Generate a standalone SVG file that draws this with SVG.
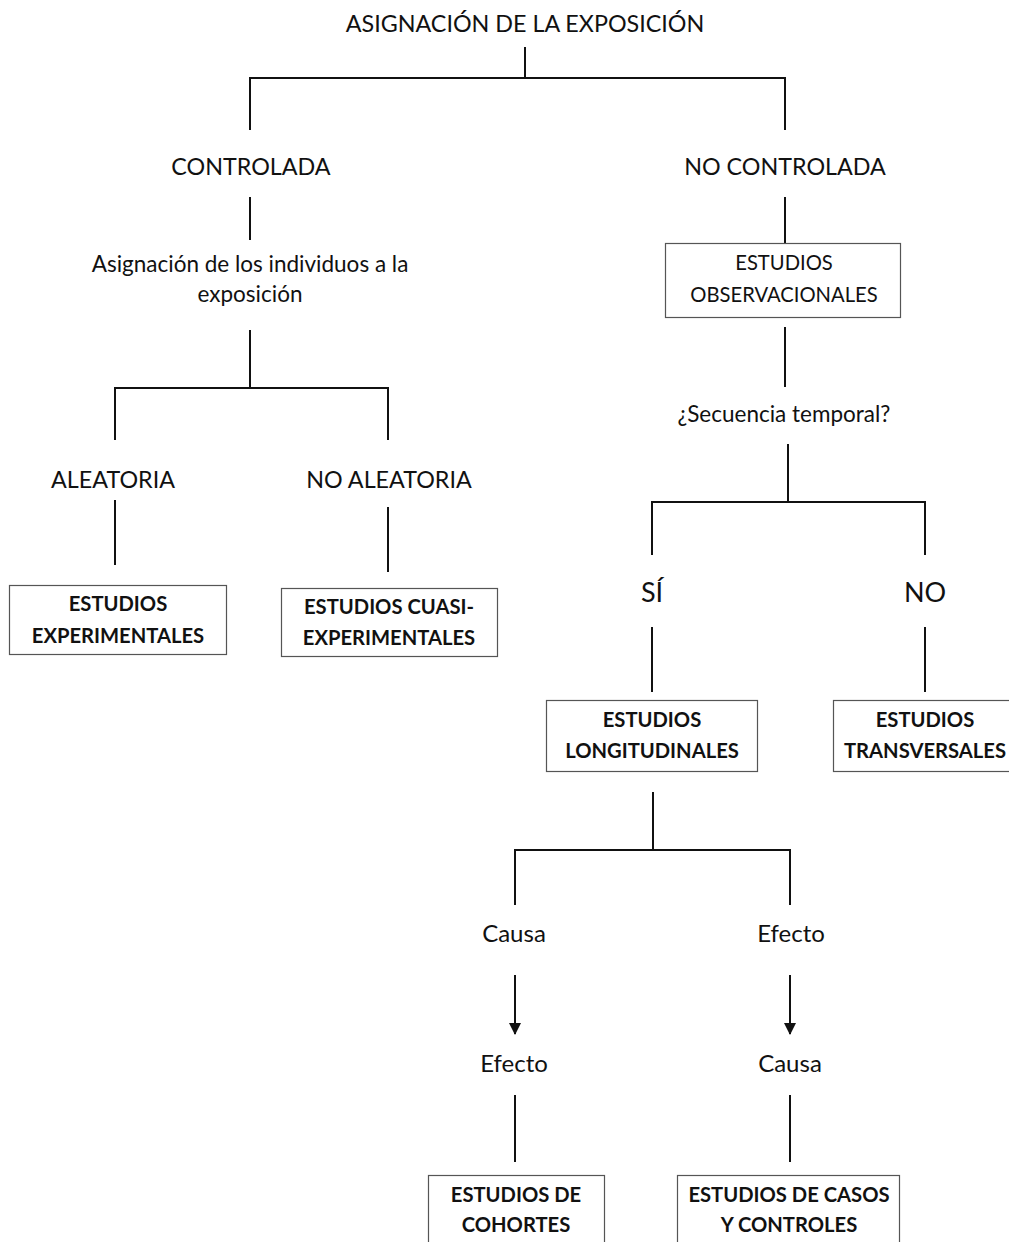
<svg xmlns="http://www.w3.org/2000/svg" width="1009" height="1242" viewBox="0 0 1009 1242">
<style>
  .t { font-family: Lato, "Liberation Sans", sans-serif; fill: #111; text-anchor: middle; }
  .big { font-size: 23.3px; }
  .mid { font-size: 22.5px; }
  .ce { font-size: 24px; }
  .obs { font-size: 20.2px; }
  .huge { font-size: 27px; }
  .b { font-family: Lato, "Liberation Sans", sans-serif; font-weight: bold; font-size: 20.2px; fill: #111; text-anchor: middle; }
  .box { fill: #fff; stroke: #555; stroke-width: 1.2; }
  .ln { stroke: #111; stroke-width: 2; fill: none; }
</style>
<defs>
  <marker id="arr" markerWidth="12" markerHeight="12" refX="11" refY="6" orient="auto" markerUnits="userSpaceOnUse">
    <path d="M0,0 L12,6 L0,12 Z" fill="#111"/>
  </marker>
</defs>
<rect width="1009" height="1242" fill="#fff"/>
<g id="connectors">
  <path class="ln" d="M525,47 V78 M250,130 V78 H785 V130"/>
  <path class="ln" d="M250,197 V240 M785,197 V243"/>
  <path class="ln" d="M250,330 V388 M115,440 V388 H388 V440"/>
  <path class="ln" d="M115,500 V565 M388,507 V572"/>
  <path class="ln" d="M785,327 V387"/>
  <path class="ln" d="M788,444 V502 M652,555 V502 H925 V555"/>
  <path class="ln" d="M652,627 V692 M925,627 V692"/>
  <path class="ln" d="M653,792 V850 M515,905 V850 H790 V905"/>
  <path class="ln" d="M515,975 V1034" marker-end="url(#arr)"/>
  <path class="ln" d="M790,975 V1034" marker-end="url(#arr)"/>
  <path class="ln" d="M515,1095 V1162 M790,1095 V1162"/>
</g>
<g id="title"><text class="t big" x="525" y="32" font-size="23.8">ASIGNACIÓN DE LA EXPOSICIÓN</text></g>
<g id="controlada"><text class="t big" x="251" y="175">CONTROLADA</text></g>
<g id="no-controlada"><text class="t big" x="785" y="175">NO CONTROLADA</text></g>
<g id="asignacion-individuos">
  <text class="t mid" x="250" y="272">Asignación de los individuos a la</text>
  <text class="t mid" x="250" y="302">exposición</text>
</g>
<g id="aleatoria"><text class="t big" x="113" y="488">ALEATORIA</text></g>
<g id="no-aleatoria"><text class="t big" x="389" y="488">NO ALEATORIA</text></g>
<g id="estudios-experimentales">
  <rect class="box" x="9.5" y="585.5" width="217" height="69"/>
  <text class="b" x="118" y="611">ESTUDIOS</text>
  <text class="b" x="118" y="643">EXPERIMENTALES</text>
</g>
<g id="estudios-cuasi">
  <rect class="box" x="281.5" y="588.5" width="216" height="68"/>
  <text class="b" x="389" y="614">ESTUDIOS CUASI-</text>
  <text class="b" x="389" y="645">EXPERIMENTALES</text>
</g>
<g id="estudios-observacionales">
  <rect class="box" x="665.5" y="243.5" width="235" height="74"/>
  <text class="t obs" x="784" y="270">ESTUDIOS</text>
  <text class="t obs" x="784" y="302">OBSERVACIONALES</text>
</g>
<g id="secuencia"><text class="t mid" x="784" y="422">¿Secuencia temporal?</text></g>
<g id="si"><text class="t huge" x="652" y="602">SÍ</text></g>
<g id="no"><text class="t huge" x="925" y="602">NO</text></g>
<g id="estudios-longitudinales">
  <rect class="box" x="546.5" y="700.5" width="211" height="71"/>
  <text class="b" x="652" y="727">ESTUDIOS</text>
  <text class="b" x="652" y="758">LONGITUDINALES</text>
</g>
<g id="estudios-transversales">
  <rect class="box" x="833.5" y="700.5" width="180" height="71"/>
  <text class="b" x="925" y="727">ESTUDIOS</text>
  <text class="b" x="925" y="758">TRANSVERSALES</text>
</g>
<g id="causa-1"><text class="t ce" x="514" y="942">Causa</text></g>
<g id="efecto-1"><text class="t ce" x="791" y="942">Efecto</text></g>
<g id="efecto-2"><text class="t ce" x="514" y="1072">Efecto</text></g>
<g id="causa-2"><text class="t ce" x="790" y="1072">Causa</text></g>
<g id="estudios-cohortes">
  <rect class="box" x="428.5" y="1175.5" width="176" height="80"/>
  <text class="b" x="516" y="1202">ESTUDIOS DE</text>
  <text class="b" x="516" y="1232">COHORTES</text>
</g>
<g id="estudios-casos-controles">
  <rect class="box" x="677.5" y="1175.5" width="222" height="80"/>
  <text class="b" x="789" y="1202">ESTUDIOS DE CASOS</text>
  <text class="b" x="789" y="1232">Y CONTROLES</text>
</g>
</svg>
